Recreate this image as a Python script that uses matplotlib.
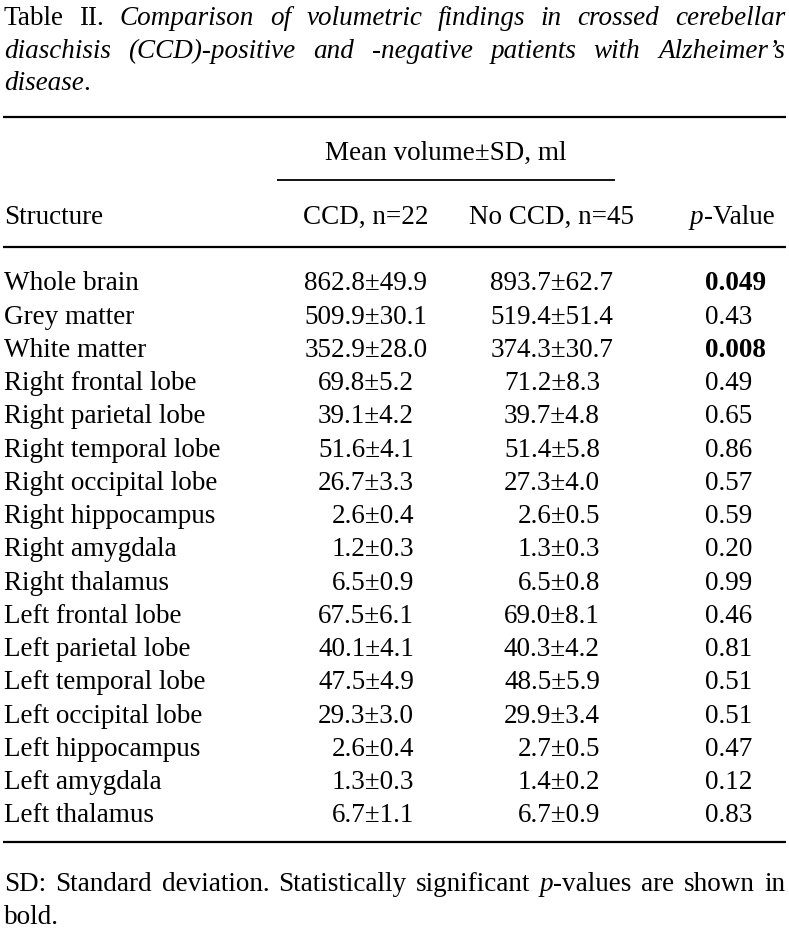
"""Table II: volumetric findings in CCD-positive and -negative AD patients."""

import matplotlib

matplotlib.use("Agg")
import matplotlib.pyplot as plt
import matplotlib.transforms as mtransforms

structures = [
    "Whole brain", "Grey matter", "White matter",
    "Right frontal lobe", "Right parietal lobe", "Right temporal lobe",
    "Right occipital lobe", "Right hippocampus", "Right amygdala", "Right thalamus",
    "Left frontal lobe", "Left parietal lobe", "Left temporal lobe",
    "Left occipital lobe", "Left hippocampus", "Left amygdala", "Left thalamus",
]
ccd_mean = [862.8, 509.9, 352.9, 69.8, 39.1, 51.6, 26.7, 2.6, 1.2, 6.5,
            67.5, 40.1, 47.5, 29.3, 2.6, 1.3, 6.7]
ccd_sd = [49.9, 30.1, 28.0, 5.2, 4.2, 4.1, 3.3, 0.4, 0.3, 0.9,
          6.1, 4.1, 4.9, 3.0, 0.4, 0.3, 1.1]
noccd_mean = [893.7, 519.4, 374.3, 71.2, 39.7, 51.4, 27.3, 2.6, 1.3, 6.5,
              69.0, 40.3, 48.5, 29.9, 2.7, 1.4, 6.7]
noccd_sd = [62.7, 51.4, 30.7, 8.3, 4.8, 5.8, 4.0, 0.5, 0.3, 0.8,
            8.1, 4.2, 5.9, 3.4, 0.5, 0.2, 0.9]
p_values = ["0.049", "0.43", "0.008", "0.49", "0.65", "0.86", "0.57", "0.59", "0.20",
            "0.99", "0.46", "0.81", "0.51", "0.51", "0.47", "0.12", "0.83"]
significant = [True, False, True] + [False] * 14

col_headers = ["Structure", "CCD, n=22", "No CCD, n=45"]
span_header = "Mean volume\u00b1SD, ml"

title_lines = [
    [[("Table", "normal")], [("II.", "normal")], [("Comparison", "italic")], [("of", "italic")],
     [("volumetric", "italic")], [("findings", "italic")], [("in", "italic")],
     [("crossed", "italic")], [("cerebellar", "italic")]],
    [[("diaschisis", "italic")], [("(CCD)-positive", "italic")], [("and", "italic")],
     [("-negative", "italic")], [("patients", "italic")], [("with", "italic")],
     [("Alzheimer\u2019s", "italic")]],
    [[("disease", "italic"), (".", "normal")]],
]
note_lines = [
    [[("SD:", "normal")], [("Standard", "normal")], [("deviation.", "normal")],
     [("Statistically", "normal")], [("significant", "normal")],
     [("p", "italic"), ("-values", "normal")], [("are", "normal")], [("shown", "normal")],
     [("in", "normal")]],
    [[("bold.", "normal")]],
]

FONT = "Liberation Serif"
FS = 19.5
W, H = 789, 953

fig = plt.figure(figsize=(W / 100, H / 100), dpi=100)
ax = fig.add_axes([0, 0, 1, 1])
ax.set_xlim(0, W)
ax.set_ylim(H, 0)
ax.axis("off")
renderer = fig.canvas.get_renderer()


def text_width(t):
    return t.get_window_extent(renderer).width


def draw_word(runs, x, y):
    start = x
    for s, style in runs:
        t = ax.text(x, y, s, fontsize=FS, family=FONT, style=style, va="baseline", ha="left")
        x += text_width(t)
    return x - start


def draw_line(words, y, x0, x1, justify=True):
    # measure words first, then spread the gaps so the line fills x0..x1
    widths = []
    for runs in words:
        w = 0
        for s, style in runs:
            t = ax.text(0, 0, s, fontsize=FS, family=FONT, style=style)
            w += text_width(t)
            t.remove()
        widths.append(w)
    space = ax.text(0, 0, " ", fontsize=FS, family=FONT)
    gap = text_width(space)
    space.remove()
    if justify and len(words) > 1:
        gap = (x1 - x0 - sum(widths)) / (len(words) - 1)
    x = x0
    for runs, w in zip(words, widths):
        draw_word(runs, x, y)
        x += w + gap


for i, line in enumerate(title_lines):
    draw_line(line, 25 + i * 32.5, 4, 785, justify=i < len(title_lines) - 1)

# rules
ax.plot([3, 786], [118, 118], color="black", lw=1.6, solid_capstyle="butt")
ax.plot([277, 615], [181, 181], color="black", lw=1.3, solid_capstyle="butt")
ax.plot([3, 786], [248, 248], color="black", lw=1.6, solid_capstyle="butt")
ax.plot([3, 786], [843, 843], color="black", lw=1.6, solid_capstyle="butt")

x_struct, x_ccd, x_no, x_p = 4, 366, 552, 705
ax.text(446, 160, span_header, fontsize=FS, family=FONT, ha="center", va="baseline")
ax.text(x_struct, 224, col_headers[0], fontsize=FS, family=FONT, ha="left", va="baseline")
ax.text(x_ccd, 224, col_headers[1], fontsize=FS, family=FONT, ha="center", va="baseline")
ax.text(x_no, 224, col_headers[2], fontsize=FS, family=FONT, ha="center", va="baseline")
draw_word([("p", "italic"), ("-Value", "normal")], 690, 224)

# single-digit means are padded by one figure width, like the printed table
pad = mtransforms.ScaledTranslation(0.25 * FS / 72, 0, fig.dpi_scale_trans)
row0, step = 290.5, 33.25
for i, name in enumerate(structures):
    y = row0 + i * step
    ax.text(x_struct, y, name, fontsize=FS, family=FONT, ha="left", va="baseline")
    for xc, m, sd in ((x_ccd, ccd_mean[i], ccd_sd[i]), (x_no, noccd_mean[i], noccd_sd[i])):
        tr = ax.transData + pad if m < 10 else ax.transData
        ax.text(xc, y, f"{m:.1f}\u00b1{sd:.1f}", fontsize=FS, family=FONT,
                ha="center", va="baseline", transform=tr)
    ax.text(x_p, y, p_values[i], fontsize=FS, family=FONT, ha="left", va="baseline",
            weight="bold" if significant[i] else "normal")

for i, line in enumerate(note_lines):
    draw_line(line, 891 + i * 33, 4, 785, justify=i < len(note_lines) - 1)

fig.savefig("out.png", dpi=100)
